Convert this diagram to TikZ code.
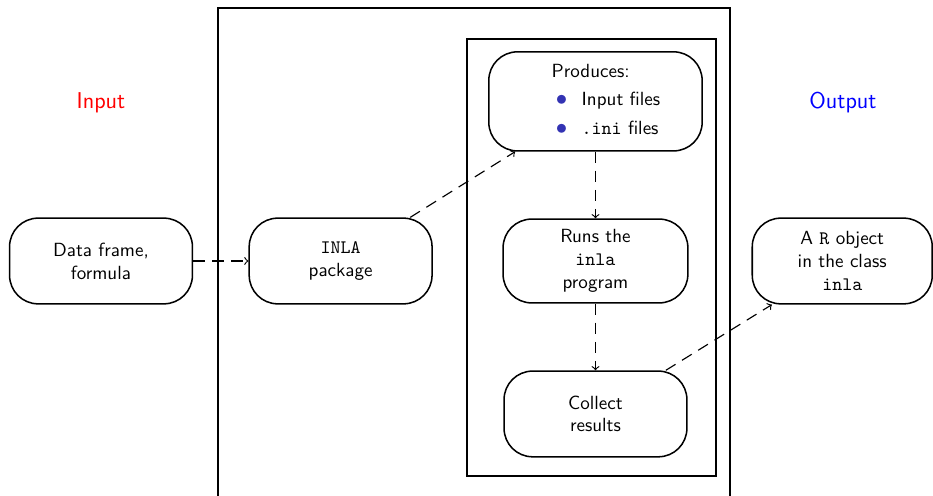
\documentclass[tikz,border=0pt]{standalone}
\usetikzlibrary{positioning}
\definecolor{itemblue}{RGB}{51,51,179}

\begin{document}
\begin{tikzpicture}[
    x=0.525pt, y=-0.525pt,
    every node/.style={font=\sffamily},
    box/.style={draw, rounded corners=15pt, thick,
                minimum height=45pt, minimum width=96pt,
                align=center},
    frame/.style={draw, semithick},
    flow/.style={->, semithick, dash pattern=on 6pt off 4pt}
  ]
  \useasboundingbox (0,0) rectangle (933,496);

  % frames
  \draw[frame] (218,8) rectangle (730,520);
  \draw[frame] (467,39) rectangle (716,476);

  % labels
  \node[text=red,  font=\sffamily\large] (inlbl)  at (101,103) {Input};
  \node[text=blue, font=\sffamily\large] (outlbl) at (843,103) {Output};

  % boxes
  \node[box] (data) at (101,261) {Data frame,\\formula};
  \node[box, right=29pt of data] (inla) {\texttt{INLA}\\package};
  \node[box, right=36.5pt of inla, minimum width=97pt, minimum height=44pt] (runs)
       {Runs the\\\texttt{inla}\\program};
  \node[box, right=33pt of runs, minimum width=94.5pt] (out) {A \texttt{R} object\\in the class\\\texttt{inla}};
  \node[box, above=35pt of runs, minimum width=112pt, minimum height=52pt] (prod)
       {\makebox[46pt][l]{\begin{tabular}{@{}l@{}}
          Produces:\\[3pt]
          \hspace*{1.5pt}\makebox[7.5pt][c]{\textcolor{itemblue}{\large$\bullet$}}\hspace*{6.75pt}Input files\\[3pt]
          \hspace*{1.5pt}\makebox[7.5pt][c]{\textcolor{itemblue}{\large$\bullet$}}\hspace*{6.75pt}\texttt{.ini} files
        \end{tabular}}};
  \node[box, below=35pt of runs, minimum width=96pt] (coll) {Collect\\results};

  % connectors
  \draw[flow] (data) -- (inla);
  \draw[flow] (inla) -- (prod);
  \draw[flow] (prod) -- (runs);
  \draw[flow] (runs) -- (coll);
  \draw[flow] (coll) -- (out);
\end{tikzpicture}
\end{document}
